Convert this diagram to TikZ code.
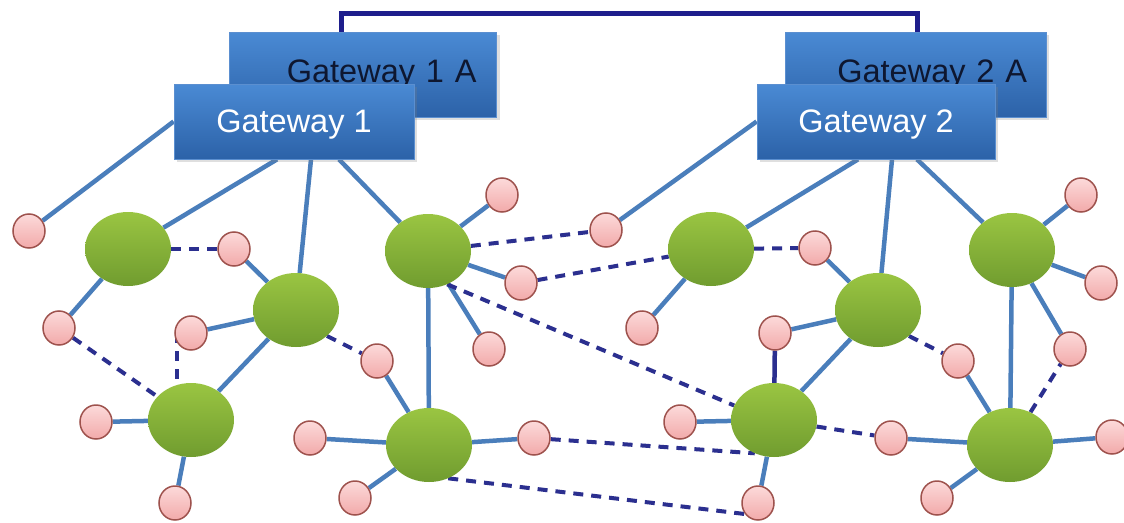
\documentclass[tikz,border=0pt]{standalone}
\usepackage{fontspec}
\setmainfont{Liberation Sans}
\usetikzlibrary{shapes.geometric,backgrounds,shadows}
\definecolor{lnk}{HTML}{4A7EBB}
\definecolor{dsh}{HTML}{2B2F8F}
\definecolor{topln}{HTML}{1E1E8C}
\definecolor{gtop}{HTML}{9AC542}
\definecolor{gbot}{HTML}{709C2F}
\definecolor{ptop}{HTML}{FCDADA}
\definecolor{pbot}{HTML}{F2AAAA}
\definecolor{pbord}{HTML}{9E524D}
\definecolor{btop}{HTML}{4A8AD4}
\definecolor{bbot}{HTML}{2C62A8}
\definecolor{bbord}{HTML}{5B8FD0}
\definecolor{darktxt}{HTML}{0E1730}
\begin{document}
\begin{tikzpicture}[x=1pt,y=-1pt,
  hub/.style={ellipse, draw=none, minimum width=86pt, minimum height=74pt, inner sep=0pt,
              top color=gtop, bottom color=gbot},
  leaf/.style={ellipse, draw=pbord, line width=1.5pt, minimum width=32pt, minimum height=34pt,
              inner sep=0pt, top color=ptop, bottom color=pbot},
  gwbox/.style={rectangle, draw=bbord, line width=0.8pt, top color=btop, bottom color=bbot,
              font=\fontsize{32.5}{37}\selectfont,
              drop shadow={opacity=0.25, shadow xshift=3pt, shadow yshift=-3pt}},
  gwback/.style={gwbox, text=darktxt, minimum height=85pt, align=right},
  gwfront/.style={gwbox, text=white, minimum height=75pt, text depth=0pt},
  solidlink/.style={draw=lnk, line width=4.5pt},
  dashlink/.style={draw=dsh, line width=4pt, dash pattern=on 10pt off 8pt},
  navylink/.style={draw=dsh, line width=4.5pt},
  toplink/.style={draw=topln, line width=5pt}]
\useasboundingbox (0,0) rectangle (1124,522);

% gateways
\node[gwback, inner xsep=20pt, text width=227pt] (gw1a) at (363,74.5) {Gateway 1 A};
\node[gwfront, minimum width=240pt] (gw1) at (294,121.5) {Gateway 1};
\node[gwback, inner xsep=19pt, text width=223pt] (gw2a) at (915.5,74.5) {Gateway 2 A};
\node[gwfront, minimum width=238pt] (gw2) at (876,121.5) {Gateway 2};

% hubs
\node[hub] (g1) at (128,249) {};
\node[hub] (g2) at (296,310) {};
\node[hub] (g3) at (428,251) {};
\node[hub] (g4) at (191,420) {};
\node[hub] (g5) at (429,445) {};
\node[hub] (g6) at (711,249) {};
\node[hub] (g7) at (878,310) {};
\node[hub] (g8) at (1012,250) {};
\node[hub] (g9) at (774,420) {};
\node[hub] (g10) at (1010,445) {};

% leaves
\node[leaf] (p1) at (29,231) {};
\node[leaf] (p2) at (234,249) {};
\node[leaf] (p3) at (502,195) {};
\node[leaf] (p4) at (59,328) {};
\node[leaf] (p5) at (191,333) {};
\node[leaf] (p6) at (96,422) {};
\node[leaf] (p7) at (175,503) {};
\node[leaf] (p8) at (377,361) {};
\node[leaf] (p9) at (489,349) {};
\node[leaf] (p10) at (521,283) {};
\node[leaf] (p11) at (310,438) {};
\node[leaf] (p12) at (355,498) {};
\node[leaf] (p13) at (534,438) {};
\node[leaf] (p14) at (606,230) {};
\node[leaf] (p15) at (1081,195) {};
\node[leaf] (p16) at (815,248) {};
\node[leaf] (p17) at (642,328) {};
\node[leaf] (p18) at (775,333) {};
\node[leaf] (p19) at (680,422) {};
\node[leaf] (p20) at (758,503) {};
\node[leaf] (p21) at (958,361) {};
\node[leaf] (p22) at (1070,349) {};
\node[leaf] (p23) at (1101,283) {};
\node[leaf] (p24) at (891,438) {};
\node[leaf] (p25) at (937,498) {};
\node[leaf] (p26) at (1112,437) {};

\coordinate (t1) at (341,13);
\coordinate (t2) at (917,13);

\begin{scope}[on background layer]
\fill[white] (0,0) rectangle (1124,522);
\draw[toplink] (gw1a.north -| t1) -- (t1) -- (t2) -- (gw2a.north -| t2);
% solid links, left
\draw[solidlink] (gw1.west) -- (p1);
\draw[solidlink] ([xshift=-17pt]gw1.south) -- (g1);
\draw[solidlink] ([xshift=17pt]gw1.south) -- (g2);
\draw[solidlink] ([xshift=45pt]gw1.south) -- (g3);
\draw[solidlink] (g1) -- (p4);
\draw[solidlink] (g2) -- (p2);
\draw[solidlink] (g2) -- (p5);
\draw[solidlink] (g2) -- (g4);
\draw[solidlink] (g3) -- (p3);
\draw[solidlink] (g3) -- (p10);
\draw[solidlink] (g3) -- (p9);
\draw[solidlink] (g3) -- (g5);
\draw[solidlink] (g4) -- (p6);
\draw[solidlink] (g4) -- (p7);
\draw[solidlink] (g5) -- (p8);
\draw[solidlink] (g5) -- (p11);
\draw[solidlink] (g5) -- (p12);
\draw[solidlink] (g5) -- (p13);
% solid links, right
\draw[solidlink] (gw2.west) -- (p14);
\draw[solidlink] ([xshift=-18pt]gw2.south) -- (g6);
\draw[solidlink] ([xshift=16pt]gw2.south) -- (g7);
\draw[solidlink] ([xshift=41pt]gw2.south) -- (g8);
\draw[solidlink] (g6) -- (p17);
\draw[solidlink] (g7) -- (p16);
\draw[solidlink] (g7) -- (p18);
\draw[solidlink] (g7) -- (g9);
\draw[solidlink] (g8) -- (p15);
\draw[solidlink] (g8) -- (p23);
\draw[solidlink] (g8) -- (p22);
\draw[solidlink] (g8) -- (g10);
\draw[solidlink] (g9) -- (p19);
\draw[solidlink] (g9) -- (p20);
\draw[solidlink] (g10) -- (p21);
\draw[solidlink] (g10) -- (p24);
\draw[solidlink] (g10) -- (p25);
\draw[solidlink] (g10) -- (p26);
\draw[navylink] (p18) -- (g9);
% dashed links
\draw[dashlink] (g1) -- (p2);
\draw[dashlink] (p4) -- (g4);
\draw[dashlink] ([xshift=-14pt]p5.center) -- ([xshift=-14pt]g4.center);
\draw[dashlink] (g2.320) -- (p8);
\draw[dashlink] (g3) -- (p14);
\draw[dashlink] (p10) -- (g6);
\draw[dashlink] (g3.300) -- (g9.160);
\draw[dashlink] (p13) -- (g9.240);
\draw[dashlink] (g5.300) -- (p20.220);
\draw[dashlink] (g6) -- (p16);
\draw[dashlink] (g7.320) -- (p21);
\draw[dashlink] (g9) -- (p24);
\draw[dashlink] (g10) -- (p22);
\end{scope}
\end{tikzpicture}
\end{document}
